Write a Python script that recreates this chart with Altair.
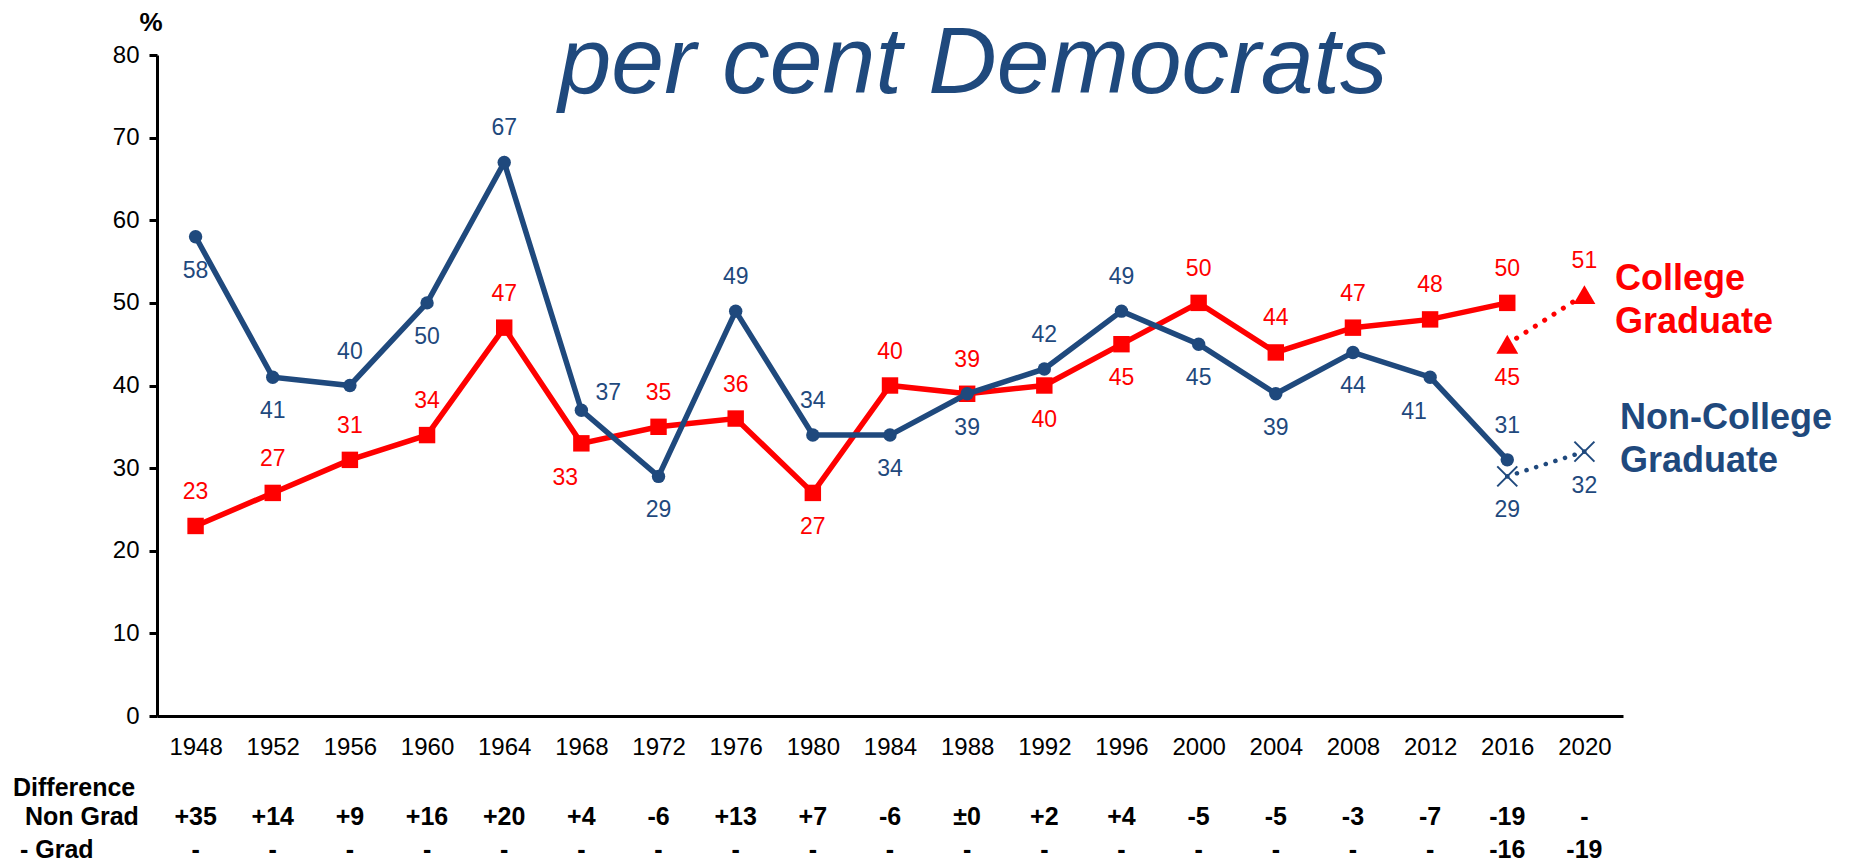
import altair as alt
import pandas as pd

# ---------------- data ----------------
years = ["1948", "1952", "1956", "1960", "1964", "1968", "1972", "1976", "1980",
         "1984", "1988", "1992", "1996", "2000", "2004", "2008", "2012", "2016"]
all_years = years + ["2020"]

noncollege = [58, 41, 40, 50, 67, 37, 29, 49, 34, 34, 39, 42, 49, 45, 39, 44, 41, 31]
college = [23, 27, 31, 34, 47, 33, 35, 36, 27, 40, 39, 40, 45, 50, 44, 47, 48, 50]

# where each value label sits relative to its point
noncollege_pos = ["below", "below", "above", "below", "above", "right", "below", "above", "above",
                  "below", "below", "above", "above", "below", "below", "below", "belowleft", "above"]
college_pos = ["above", "above", "above", "above", "above", "belowleft", "above", "above", "below",
               "above", "above", "below", "below", "above", "above", "above", "above", "above"]

proj_years = ["2016", "2020"]
proj_college = [45, 51]
proj_noncollege = [29, 32]
proj_college_pos = ["below", "above"]
proj_noncollege_pos = ["below", "below"]

diff_nongrad = ["+35", "+14", "+9", "+16", "+20", "+4", "-6", "+13", "+7", "-6", "±0", "+2",
                "+4", "-5", "-5", "-3", "-7", "-19", "-"]
diff_grad = ["-"] * 17 + ["-16", "-19"]

title_text = ["per cent Democrats"]
unit_text = ["%"]
college_name = ["College", "Graduate"]
noncollege_name = ["Non-College", "Graduate"]
row_names = ["Difference", "Non Grad", "- Grad"]

# ---------------- styles ----------------
RED = "#FF0000"
BLUE = "#1F497D"
FONT = "Liberation Sans"
W, H = 1466, 661

offsets = {
    "above": (0, -34),
    "below": (0, 34),
    "right": (27, -17),
    "belowleft": (-16, 35),
}

xscale = alt.Scale(type="point", domain=all_years, padding=0.5)
yscale = alt.Scale(domain=[0, 80])

xaxis = alt.Axis(title=None, labelAngle=0, ticks=False, grid=False, domainColor="black",
                 domainWidth=3, labelFont=FONT, labelFontSize=24, labelColor="black",
                 labelPadding=19)
yaxis = alt.Axis(title=None, values=list(range(0, 90, 10)), grid=False, domainColor="black",
                 domainWidth=3, tickColor="black", tickWidth=3, tickSize=8,
                 labelFont=FONT, labelFontSize=24, labelColor="black", labelPadding=10)


def X():
    return alt.X("year:O", scale=xscale, axis=xaxis)


def Y():
    return alt.Y("v:Q", scale=yscale, axis=yaxis)


def labels(df, color):
    out = []
    for pos, (dx, dy) in offsets.items():
        out.append(
            alt.Chart(df).transform_filter(alt.datum.pos == pos)
            .mark_text(dx=dx, dy=dy, font=FONT, fontSize=23, color=color,
                       align="center", baseline="middle")
            .encode(x=X(), y=Y(), text="v:Q")
        )
    return out


df_c = pd.DataFrame({"year": years, "v": college, "pos": college_pos})
df_n = pd.DataFrame({"year": years, "v": noncollege, "pos": noncollege_pos})
df_pc = pd.DataFrame({"year": proj_years, "v": proj_college, "pos": proj_college_pos})
df_pn = pd.DataFrame({"year": proj_years, "v": proj_noncollege, "pos": proj_noncollege_pos})

layers = []

# college (red)
layers.append(alt.Chart(df_c).mark_line(color=RED, strokeWidth=5.5).encode(x=X(), y=Y()))
layers.append(alt.Chart(df_c).mark_point(shape="square", filled=True, size=270, color=RED,
                                         opacity=1).encode(x=X(), y=Y()))
# non-college (blue)
layers.append(alt.Chart(df_n).mark_line(color=BLUE, strokeWidth=5.5).encode(x=X(), y=Y()))
layers.append(alt.Chart(df_n).mark_point(shape="circle", filled=True, size=180, color=BLUE,
                                         opacity=1).encode(x=X(), y=Y()))
# projections (dotted)
layers.append(alt.Chart(df_pc).mark_line(color=RED, strokeWidth=5, strokeDash=[0.1, 11],
                                         strokeCap="round").encode(x=X(), y=Y()))
layers.append(alt.Chart(df_pc).mark_point(shape="triangle-up", filled=True, size=480, color=RED,
                                          opacity=1).encode(x=X(), y=Y()))
layers.append(alt.Chart(df_pn).mark_line(color=BLUE, strokeWidth=4.5, strokeDash=[0.1, 10],
                                         strokeCap="round").encode(x=X(), y=Y()))
layers.append(alt.Chart(df_pn).mark_point(shape="M-1,-1L1,1M-1,1L1,-1", filled=False, size=400,
                                          color=BLUE, strokeWidth=2, opacity=1)
              .encode(x=X(), y=Y()))

layers += labels(df_c, RED)
layers += labels(df_n, BLUE)
layers += labels(df_pc, RED)
layers += labels(df_pn, BLUE)

# difference rows
df_d1 = pd.DataFrame({"year": all_years, "t": diff_nongrad})
df_d2 = pd.DataFrame({"year": all_years, "t": diff_grad})
layers.append(alt.Chart(df_d1).mark_text(font=FONT, fontSize=25, fontWeight="bold", color="black",
                                         align="center", baseline="alphabetic")
              .encode(x=X(), y=alt.value(770), text="t:N"))
layers.append(alt.Chart(df_d2).mark_text(font=FONT, fontSize=25, fontWeight="bold", color="black",
                                         align="center", baseline="alphabetic")
              .encode(x=X(), y=alt.value(803), text="t:N"))


def note(texts, xs, ys, **kw):
    df = pd.DataFrame({"t": texts, "x": xs, "y": ys})
    return alt.Chart(df).mark_text(baseline="alphabetic", **kw).encode(
        x=alt.X("x:Q", scale=None), y=alt.Y("y:Q", scale=None), text="t:N")


layers.append(note(row_names, [-144, -132, -137], [741, 770, 803], font=FONT, fontSize=25,
                   fontWeight="bold", color="black", align="left"))
layers.append(note(title_text, [816], [38], font=FONT, fontSize=95, fontStyle="italic",
                   color=BLUE, align="center"))
layers.append(note(unit_text, [-6], [-24], font=FONT, fontSize=26, fontWeight="bold",
                   color="black", align="center"))
layers.append(note(college_name, [1458, 1458], [235, 278], font=FONT, fontSize=36,
                   fontWeight="bold", color=RED, align="left"))
layers.append(note(noncollege_name, [1463, 1463], [374, 417], font=FONT, fontSize=36,
                   fontWeight="bold", color=BLUE, align="left"))

chart = alt.layer(*layers).properties(
    width=W, height=H,
    padding={"left": 5, "top": 2, "right": 0, "bottom": 0},
).configure_view(stroke=None)

chart.save("out.html", embed_options={"renderer": "svg", "actions": False})
